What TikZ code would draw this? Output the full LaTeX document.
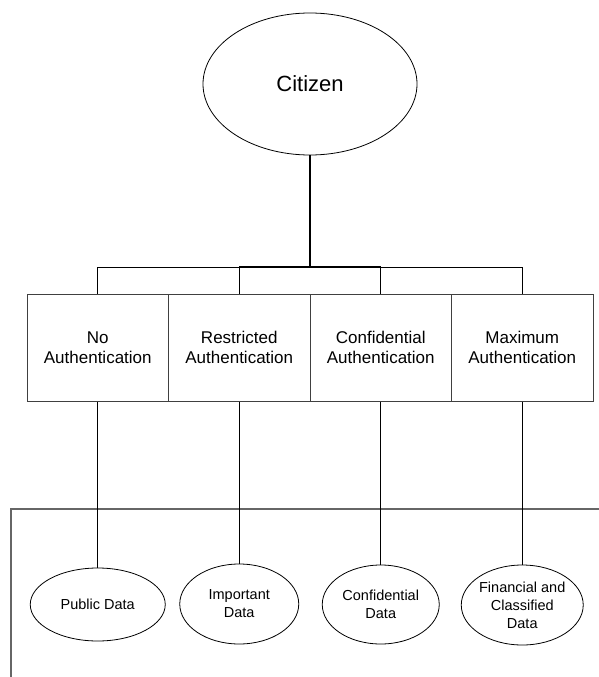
\documentclass[tikz,border=0pt]{standalone}
\usepackage{fontspec}
\setmainfont{Liberation Sans}
\usetikzlibrary{shapes.geometric}
\begin{document}
\begin{tikzpicture}[x=1pt,y=-1pt,
  authbox/.style={draw=black!75,line width=1pt,rectangle,minimum width=141.5pt,minimum height=107pt,inner sep=0pt,align=center,font=\fontsize{17}{20.5}\selectfont},
  dataell/.style={draw=black,line width=0.8pt,ellipse,inner sep=0pt,align=center,font=\fontsize{14.5}{18}\selectfont},
  conn/.style={draw=black,line width=0.9pt},
  busline/.style={draw=black!60,line width=1.6pt}]
\useasboundingbox (0,0) rectangle (599,677);
\node[draw=black,line width=0.8pt,ellipse,minimum width=214pt,minimum height=142pt,inner sep=0pt,font=\fontsize{22}{26}\selectfont] (cit) at (310,84) {Citizen};
\node[authbox] (b1) at (97.75,347.5) {No\\Authentication};
\node[authbox] (b2) at (239.25,347.5) {Restricted\\Authentication};
\node[authbox] (b3) at (380.75,347.5) {Confidential\\Authentication};
\node[authbox] (b4) at (522.25,347.5) {Maximum\\Authentication};
\node[dataell,minimum width=135pt,minimum height=73pt] (d1) at (97.75,604.5) {Public Data};
\node[dataell,minimum width=119pt,minimum height=80pt] (d2) at (239.25,604) {Important\\Data};
\node[dataell,minimum width=117pt,minimum height=79pt] (d3) at (380.75,604.5) {Confidential\\Data};
\node[dataell,minimum width=119pt,minimum height=80pt] (d4) at (522.25,605) {Financial and\\Classified\\Data};
\coordinate (hub) at (310,267);
\coordinate (h1) at (97.75,267);
\coordinate (h2) at (239.25,267);
\coordinate (h3) at (380.75,267);
\coordinate (h4) at (522.25,267);
\coordinate (bl) at (11,509);
\coordinate (br) at (599,509);
\coordinate (bb) at (11,677);
\draw[line width=1.8pt] (cit.south) -- (hub);
\draw[conn] (h1) -- (h4);
\draw[line width=1.4pt] (h2) -- (h3);
\draw[conn] (h1) -- (b1.north);
\draw[conn] (h2) -- (b2.north);
\draw[conn] (h3) -- (b3.north);
\draw[conn] (h4) -- (b4.north);
\draw[busline] (bb) -- (bl) -- (br);
\draw[conn] (b1.south) -- (d1.north);
\draw[conn] (b2.south) -- (d2.north);
\draw[conn] (b3.south) -- (d3.north);
\draw[conn] (b4.south) -- (d4.north);
\end{tikzpicture}
\end{document}
